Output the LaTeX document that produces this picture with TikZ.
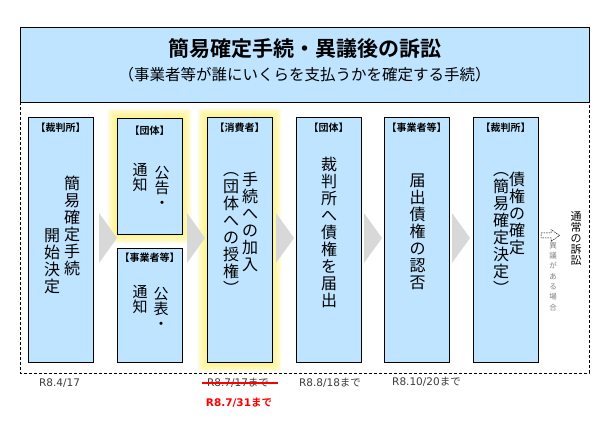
\documentclass[tikz,border=0pt]{standalone}
\usepackage{fontspec}
\setmainfont{DejaVu Sans}
\newfontfamily\jp{Noto Sans CJK JP}[BoldFont={Noto Sans CJK JP Bold}]
\usepackage{tikz}
\usetikzlibrary{positioning}
\usetikzlibrary{backgrounds}
\definecolor{boxblue}{RGB}{191,228,255}
\definecolor{chevgray}{RGB}{216,216,216}
\definecolor{glowyellow}{RGB}{255,238,90}
\definecolor{dategray}{RGB}{60,60,60}
\tikzstyle{box}=[draw, fill=boxblue, line width=0.8pt, minimum width=65pt, inner sep=0pt]
\tikzstyle{hdr}=[font=\jp\bfseries\fontsize{10}{11}\selectfont, inner sep=0pt]
\tikzstyle{tate}=[font=\jp\fontsize{16}{17}\selectfont, align=center, inner sep=0pt, anchor=north]
\tikzstyle{tatesm}=[font=\jp\fontsize{15}{15}\selectfont, align=center, inner sep=0pt, anchor=north]
\tikzstyle{date}=[font=\fontsize{10.5}{12}\selectfont, text=dategray, inner sep=0pt]

\begin{document}
\begin{tikzpicture}[x=1pt, y=-1pt]
        \useasboundingbox (0,0) rectangle (608,422);
        % rahmen und titel
        \draw[dashed, dash pattern=on 3pt off 2pt, line width=0.6pt] (20,102) rectangle (589,373);
        \node[box, minimum width=569pt, minimum height=75pt] (head) at (304.5,64.5) {};
        \node[font=\jp\bfseries\fontsize{21}{24}\selectfont] (ttl) at (304.5,49) {簡易確定手続・異議後の訴訟};
        \node[font=\jp\fontsize{15.5}{18}\selectfont] (sub) at (304.5,75) {（事業者等が誰にいくらを支払うかを確定する手続）};

        % kaesten
        \node[box, minimum height=245pt] (b1) at (60.5,239.5) {};
        \node[box, minimum height=116pt] (b2a) at (149.5,176) {};
        \node[box, minimum height=114pt] (b2b) at (149.5,305) {};
        \node[box, minimum height=245pt] (b3) at (239.5,240) {};
        \node[box, minimum height=245pt] (b4) at (328.5,239.5) {};
        \node[box, minimum height=245pt] (b5) at (416.5,239.5) {};
        \node[box, minimum height=245pt] (b6) at (505.5,239.5) {};

        % leuchten
        \begin{scope}[on background layer]
            \foreach \g in {1,...,6} {
                \fill[glowyellow, opacity=0.16, rounded corners=3pt] ([shift={(-\g*1.5pt,\g*1.5pt)}]b2a.north west) rectangle ([shift={(\g*1.5pt,-\g*1.5pt)}]b2a.south east);
                \fill[glowyellow, opacity=0.16, rounded corners=3pt] ([shift={(-\g*1.5pt,\g*1.5pt)}]b3.north west) rectangle ([shift={(\g*1.5pt,-\g*1.5pt)}]b3.south east);
            }
        \end{scope}

        % pfeile
        \foreach \x in {99,187,276,364,452}
            \fill[chevgray] (\x,213) -- (\x+18,238) -- (\x,263) -- cycle;

        % kopfzeilen
        \node[hdr, below=6pt of b1.north] (h1) {【裁判所】};
        \node[hdr, below=8pt of b2a.north] (h2a) {【団体】};
        \node[hdr, below=5pt of b2b.north] (h2b) {【事業者等】};
        \node[hdr, below=6pt of b3.north] (h3) {【消費者】};
        \node[hdr, below=6pt of b4.north] (h4) {【団体】};
        \node[hdr, below=6pt of b5.north] (h5) {【事業者等】};
        \node[hdr, below=6pt of b6.north] (h6) {【裁判所】};

        % senkrechte texte
        \node[tate] (t1a) at (72,176) {簡\\易\\確\\定\\手\\続};
        \node[tate] (t1b) at (52,229) {開\\始\\決\\定};
        \node[tatesm] (t2a) at (162,166) {公\\告\\・};
        \node[tatesm] (t2b) at (140,163) {通\\知};
        \node[tatesm] (t2c) at (161,287) {公\\表\\・};
        \node[tatesm] (t2d) at (140,285) {通\\知};
        \node[tate] (t3a) at (250,172) {手\\続\\へ\\の\\加\\入};
        \node[tate] (t3b) at (231,172) {︵\\団\\体\\へ\\の\\授\\権\\︶};
        \node[tate] (t4) at (329,157) {裁\\判\\所\\へ\\債\\権\\を\\届\\出};
        \node[tate] (t5) at (417.5,174) {届\\出\\債\\権\\の\\認\\否};
        \node[tate] (t6a) at (517,172) {債\\権\\の\\確\\定};
        \node[tate] (t6b) at (501,172) {︵\\簡\\易\\確\\定\\決\\定\\︶};

        % rechts
        \draw[dashed, dash pattern=on 1.5pt off 1pt, line width=0.5pt] (541,233) -- (551,233) -- (551,229.5) -- (559.5,235.5) -- (551,241.5) -- (551,238) -- (541,238) -- cycle;
        \node[font=\jp\fontsize{11}{11.2}\selectfont, align=center, inner sep=0pt, anchor=north] (lit) at (576,211) {通\\常\\の\\訴\\訟};
        \node[font=\jp\fontsize{7.5}{10.3}\selectfont, text=gray, align=center, inner sep=0pt, anchor=north] (ig) at (553,242) {異\\議\\が\\あ\\る\\場\\合};

        % termine
        \node[date] (d1) at (59.5,383) {R8.4/17};
        \node[date] (d2) at (238,383) {R8.7/17{\jp まで}};
        \node[date] (d3) at (330,383) {R8.8/18{\jp まで}};
        \node[date] (d4) at (426.5,382) {R8.10/20{\jp まで}};
        \draw[red, line width=1.5pt] ([xshift=-5pt]d2.west) -- ([xshift=9pt]d2.east);
        \node[date, text=red, font=\bfseries\fontsize{10.5}{12}\selectfont] (d5) at (239,403) {R8.7/31{\jp\bfseries まで}};
    \end{tikzpicture}
\end{document}
